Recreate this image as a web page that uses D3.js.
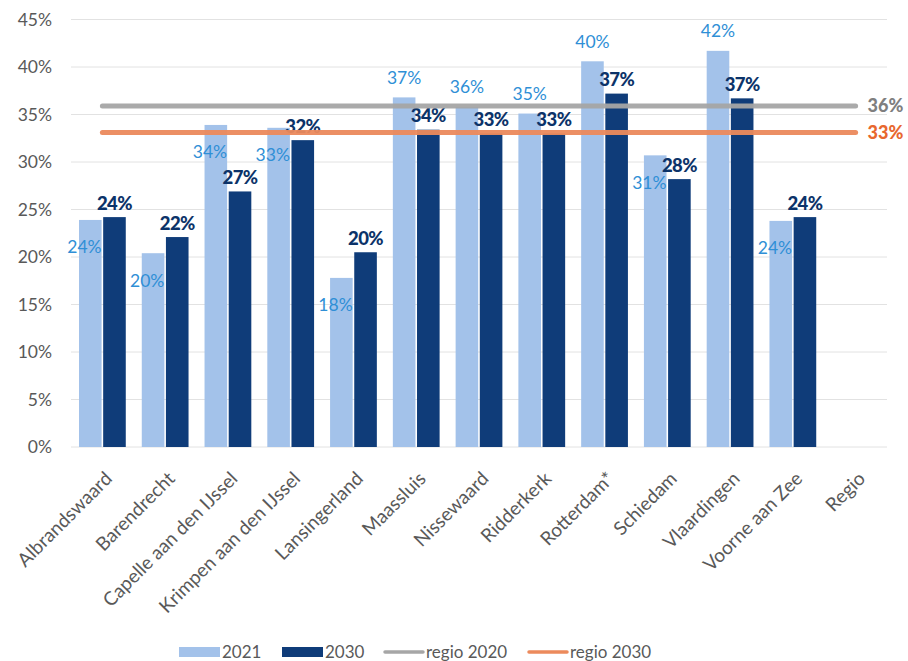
<!DOCTYPE html>
<html>
<head>
<meta charset="utf-8">
<script src="https://cdn.jsdelivr.net/npm/d3@7"></script>
<style>
  body { margin: 0; background: #fff; }
  svg { display: block; font-family: Lato, "Open Sans", sans-serif; }
</style>
</head>
<body>
<svg id="chart" width="908" height="661"></svg>
<script>
const categories = ["Albrandswaard", "Barendrecht", "Capelle aan den IJssel", "Krimpen aan den IJssel",
  "Lansingerland", "Maassluis", "Nissewaard", "Ridderkerk", "Rotterdam*", "Schiedam",
  "Vlaardingen", "Voorne aan Zee", "Regio"];
const values2021 = [23.9, 20.4, 33.9, 33.6, 17.8, 36.8, 35.8, 35.1, 40.6, 30.7, 41.7, 23.8, null];
const values2030 = [24.2, 22.1, 26.9, 32.3, 20.5, 33.4, 33.0, 33.0, 37.2, 28.2, 36.7, 24.2, null];
const labels2021 = ["24%", "20%", "34%", "33%", "18%", "37%", "36%", "35%", "40%", "31%", "42%", "24%", null];
const labels2030 = ["24%", "22%", "27%", "32%", "20%", "34%", "33%", "33%", "37%", "28%", "37%", "24%", null];
const regio2020 = 35.9;
const regio2030 = 33.1;
const regio2020Label = "36%";
const regio2030Label = "33%";
const yTicks = [0, 5, 10, 15, 20, 25, 30, 35, 40, 45];
const seriesNames = ["2021", "2030"];
const legendNames = ["2021", "2030", "regio 2020", "regio 2030"];

const colors = { c2021: "#a3c2ea", c2030: "#0f3c79", l2021: "#2f8fd6", l2030: "#0c3369",
  grey: "#a6a6a6", greyText: "#7f7f7f", orange: "#ec8a5c", orangeText: "#e8672e", axis: "#595959", grid: "#e2e2e2" };

const svg = d3.select("#chart");
const margin = { left: 71, right: 21, top: 19.5, bottom: 214 };
const W = 908, H = 661;

const y = d3.scaleLinear().domain([0, 45]).range([H - margin.bottom, margin.top]);
const x = d3.scaleBand().domain(categories).range([margin.left, W - margin.right]).padding(0);
const inner = 8;
const x1 = d3.scaleBand().domain(seriesNames).range([inner, x.bandwidth() - inner]).paddingInner(0.065);

// gridlines
svg.append("g").selectAll("line").data(yTicks).join("line")
  .attr("x1", margin.left).attr("x2", W - margin.right)
  .attr("y1", d => y(d)).attr("y2", d => y(d))
  .attr("stroke", colors.grid).attr("stroke-width", 1);

// y axis labels
const yAxis = d3.axisLeft(y).tickValues(yTicks).tickFormat(d => d + "%").tickSize(0).tickPadding(19);
const ya = svg.append("g").attr("transform", `translate(${margin.left},0)`).call(yAxis);
ya.select(".domain").remove();
ya.selectAll("text").attr("fill", colors.axis).style("font-size", "17.5px").style("font-family", "Lato, sans-serif");

// bars
const rows = categories.map((c, i) => ({ c, v21: values2021[i], v30: values2030[i], l21: labels2021[i], l30: labels2030[i] }));
const g = svg.append("g");
const bars = g.selectAll("g.cat").data(rows.filter(r => r.v21 != null)).join("g")
  .attr("transform", d => `translate(${x(d.c)},0)`);
bars.append("rect").attr("x", x1("2021")).attr("width", x1.bandwidth())
  .attr("y", d => y(d.v21)).attr("height", d => y(0) - y(d.v21)).attr("fill", colors.c2021);
bars.append("rect").attr("x", x1("2030")).attr("width", x1.bandwidth())
  .attr("y", d => y(d.v30)).attr("height", d => y(0) - y(d.v30)).attr("fill", colors.c2030);

// regio lines
const xc0 = x(categories[0]) + x.bandwidth() / 2;
const xc1 = x(categories[categories.length - 1]) + x.bandwidth() / 2;
[[regio2020, colors.grey, colors.greyText, regio2020Label], [regio2030, colors.orange, colors.orangeText, regio2030Label]].forEach(([v, col, tcol, lab]) => {
  svg.append("line").attr("x1", xc0).attr("x2", xc1).attr("y1", y(v)).attr("y2", y(v))
    .attr("stroke", col).attr("stroke-width", 5).attr("stroke-linecap", "round").attr("opacity", 0.95);
  svg.append("text").attr("x", xc1 + 12).attr("y", y(v)).attr("dy", "0.36em")
    .attr("fill", tcol).style("font-size", "18px").style("font-weight", 900).text(lab);
});

// labels 2021
bars.append("text")
  .attr("x", d => d.v21 >= 35 ? x1("2021") + x1.bandwidth() / 2 : x1("2021") + x1.bandwidth())
  .attr("y", d => d.v21 >= 35 ? y(d.v21) - 20 : y(d.v21) + 27)
  .attr("dy", "0.36em")
  .attr("text-anchor", d => d.v21 >= 35 ? "middle" : "end")
  .attr("fill", colors.l2021).style("font-size", "17.5px").text(d => d.l21);

// labels 2030
bars.append("text")
  .attr("x", x1("2030") + x1.bandwidth() / 2)
  .attr("y", d => y(d.v30) - 14)
  .attr("dy", "0.36em")
  .attr("text-anchor", "middle")
  .attr("fill", colors.l2030).style("font-size", "18.5px").style("font-weight", 900)
  .style("letter-spacing", "-0.6px").text(d => d.l30);

// category labels
svg.append("g").selectAll("text").data(categories).join("text")
  .attr("transform", d => `translate(${x(d) + x.bandwidth() / 2 + 6},${y(0) + 28}) rotate(-45)`)
  .attr("text-anchor", "end").attr("dy", "0.36em")
  .attr("fill", colors.axis).style("font-size", "19px").text(d => d);

// legend
const legY = 652;
const leg = svg.append("g");
const legX = [179, 282, 383, 527];
legendNames.forEach((n, i) => {
  const gx = legX[i];
  if (i < 2) {
    leg.append("rect").attr("x", gx).attr("y", legY - 5).attr("width", 41).attr("height", 10)
      .attr("fill", i === 0 ? colors.c2021 : colors.c2030);
  } else {
    leg.append("line").attr("x1", gx + 2).attr("x2", gx + 40).attr("y1", legY).attr("y2", legY)
      .attr("stroke", i === 2 ? colors.grey : colors.orange).attr("stroke-width", 3.5).attr("stroke-linecap", "round");
  }
  leg.append("text").attr("x", gx + 43).attr("y", legY).attr("dy", "0.36em")
    .attr("fill", colors.axis).style("font-size", "17px").text(n);
});
</script>
</body>
</html>
